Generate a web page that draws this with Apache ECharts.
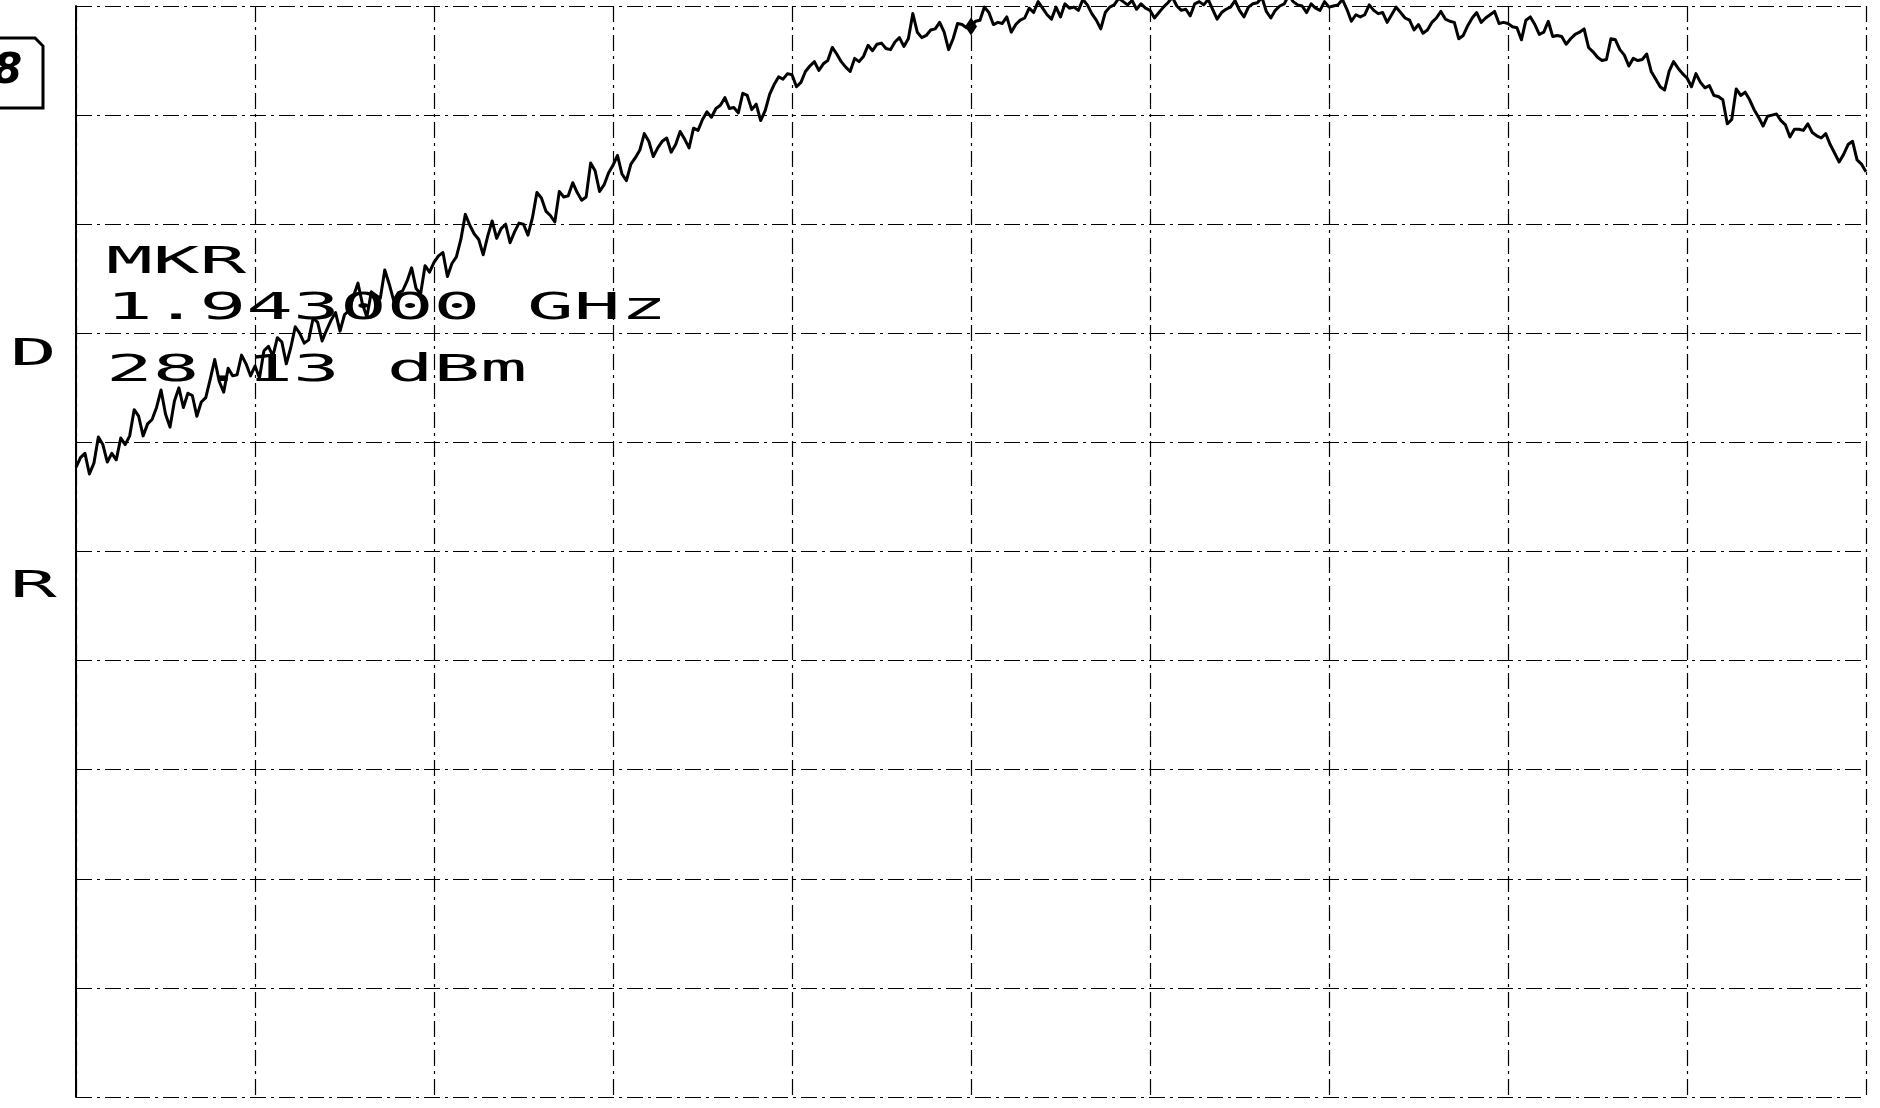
<!DOCTYPE html>
<html>
<head>
<meta charset="utf-8">
<script src="https://cdn.jsdelivr.net/npm/echarts@6/dist/echarts.min.js"></script>
<style>html,body{margin:0;padding:0;background:#fff;}#chart{width:1880px;height:1108px;}</style>
</head>
<body>
<div id="chart"></div>
<script>
// Frequency axis (MHz), 0.005 MHz per trace point, 0.2 MHz per division
const freqMHz = [
1942.000,1942.005,1942.010,1942.015,1942.020,1942.025,1942.030,1942.035,1942.040,1942.045,1942.050,1942.055,1942.060,1942.065,1942.070,1942.075,1942.080,1942.085,1942.090,1942.095,
1942.100,1942.105,1942.110,1942.115,1942.120,1942.125,1942.130,1942.135,1942.140,1942.145,1942.150,1942.155,1942.160,1942.165,1942.170,1942.175,1942.180,1942.185,1942.190,1942.195,
1942.200,1942.205,1942.210,1942.215,1942.220,1942.225,1942.230,1942.235,1942.240,1942.245,1942.250,1942.255,1942.260,1942.265,1942.270,1942.275,1942.280,1942.285,1942.290,1942.295,
1942.300,1942.305,1942.310,1942.315,1942.320,1942.325,1942.330,1942.335,1942.340,1942.345,1942.350,1942.355,1942.360,1942.365,1942.370,1942.375,1942.380,1942.385,1942.390,1942.395,
1942.400,1942.405,1942.410,1942.415,1942.420,1942.425,1942.430,1942.435,1942.440,1942.445,1942.450,1942.455,1942.460,1942.465,1942.470,1942.475,1942.480,1942.485,1942.490,1942.495,
1942.500,1942.505,1942.510,1942.515,1942.520,1942.525,1942.530,1942.535,1942.540,1942.545,1942.550,1942.555,1942.560,1942.565,1942.570,1942.575,1942.580,1942.585,1942.590,1942.595,
1942.600,1942.605,1942.610,1942.615,1942.620,1942.625,1942.630,1942.635,1942.640,1942.645,1942.650,1942.655,1942.660,1942.665,1942.670,1942.675,1942.680,1942.685,1942.690,1942.695,
1942.700,1942.705,1942.710,1942.715,1942.720,1942.725,1942.730,1942.735,1942.740,1942.745,1942.750,1942.755,1942.760,1942.765,1942.770,1942.775,1942.780,1942.785,1942.790,1942.795,
1942.800,1942.805,1942.810,1942.815,1942.820,1942.825,1942.830,1942.835,1942.840,1942.845,1942.850,1942.855,1942.860,1942.865,1942.870,1942.875,1942.880,1942.885,1942.890,1942.895,
1942.900,1942.905,1942.910,1942.915,1942.920,1942.925,1942.930,1942.935,1942.940,1942.945,1942.950,1942.955,1942.960,1942.965,1942.970,1942.975,1942.980,1942.985,1942.990,1942.995,
1943.000,1943.005,1943.010,1943.015,1943.020,1943.025,1943.030,1943.035,1943.040,1943.045,1943.050,1943.055,1943.060,1943.065,1943.070,1943.075,1943.080,1943.085,1943.090,1943.095,
1943.100,1943.105,1943.110,1943.115,1943.120,1943.125,1943.130,1943.135,1943.140,1943.145,1943.150,1943.155,1943.160,1943.165,1943.170,1943.175,1943.180,1943.185,1943.190,1943.195,
1943.200,1943.205,1943.210,1943.215,1943.220,1943.225,1943.230,1943.235,1943.240,1943.245,1943.250,1943.255,1943.260,1943.265,1943.270,1943.275,1943.280,1943.285,1943.290,1943.295,
1943.300,1943.305,1943.310,1943.315,1943.320,1943.325,1943.330,1943.335,1943.340,1943.345,1943.350,1943.355,1943.360,1943.365,1943.370,1943.375,1943.380,1943.385,1943.390,1943.395,
1943.400,1943.405,1943.410,1943.415,1943.420,1943.425,1943.430,1943.435,1943.440,1943.445,1943.450,1943.455,1943.460,1943.465,1943.470,1943.475,1943.480,1943.485,1943.490,1943.495,
1943.500,1943.505,1943.510,1943.515,1943.520,1943.525,1943.530,1943.535,1943.540,1943.545,1943.550,1943.555,1943.560,1943.565,1943.570,1943.575,1943.580,1943.585,1943.590,1943.595,
1943.600,1943.605,1943.610,1943.615,1943.620,1943.625,1943.630,1943.635,1943.640,1943.645,1943.650,1943.655,1943.660,1943.665,1943.670,1943.675,1943.680,1943.685,1943.690,1943.695,
1943.700,1943.705,1943.710,1943.715,1943.720,1943.725,1943.730,1943.735,1943.740,1943.745,1943.750,1943.755,1943.760,1943.765,1943.770,1943.775,1943.780,1943.785,1943.790,1943.795,
1943.800,1943.805,1943.810,1943.815,1943.820,1943.825,1943.830,1943.835,1943.840,1943.845,1943.850,1943.855,1943.860,1943.865,1943.870,1943.875,1943.880,1943.885,1943.890,1943.895,
1943.900,1943.905,1943.910,1943.915,1943.920,1943.925,1943.930,1943.935,1943.940,1943.945,1943.950,1943.955,1943.960,1943.965,1943.970,1943.975,1943.980,1943.985,1943.990,1943.995,
1944.000
];
// Trace level (dBm) (10 dB/div, reference level 30 dBm at top line)
const levelDbm = [
-12.3,-11.4,-11.0,-12.9,-11.9,-9.5,-10.2,-11.8,-11.0,-11.6,-9.6,-10.2,-9.4,-7.0,-7.6,-9.4,-8.3,-7.9,-6.8,-5.2,
-7.4,-8.6,-6.2,-5.0,-6.8,-5.5,-5.7,-7.6,-6.3,-5.9,-4.2,-2.4,-4.4,-5.4,-3.2,-3.9,-3.8,-2.0,-2.8,-3.9,
-3.0,-4.1,-1.6,-1.2,-2.1,-0.4,-0.8,-2.8,-1.3,0.6,0.0,-0.9,-0.6,1.4,1.0,-0.7,0.3,1.2,1.9,0.2,
1.7,2.1,3.4,4.6,2.7,1.5,3.8,3.5,3.2,5.8,4.5,3.0,3.7,3.9,4.8,6.0,4.1,3.6,6.2,5.6,
6.5,7.1,7.4,5.2,6.4,7.0,8.6,10.9,9.9,9.1,8.6,7.2,8.9,10.3,8.7,9.6,10.0,8.3,9.3,10.1,
10.0,9.0,10.6,12.9,12.4,11.2,10.8,10.2,13.0,12.5,12.6,13.8,12.9,12.2,12.5,15.6,14.9,13.0,13.6,14.7,
15.4,16.3,14.6,14.0,15.5,16.1,16.8,18.3,17.6,16.2,17.0,17.6,17.9,16.6,17.3,18.5,17.8,17.0,18.8,18.6,
19.6,20.3,19.8,20.6,20.9,21.6,20.6,20.7,20.2,22.0,21.8,20.5,21.0,19.5,20.4,21.9,22.8,23.5,23.3,23.8,
23.7,22.6,23.0,24.0,24.5,24.9,24.1,24.7,25.0,26.2,25.6,24.9,24.4,24.0,25.2,24.9,25.4,26.4,25.9,26.5,
26.6,26.1,26.0,26.7,27.1,26.3,27.0,29.3,27.6,27.1,27.3,27.8,27.9,28.5,27.6,26.0,27.0,28.4,28.3,28.0,
28.1,28.6,28.7,29.9,29.4,28.3,28.5,28.4,29.0,27.6,28.3,28.7,28.9,29.8,29.4,30.4,29.8,29.2,28.8,29.9,
29.0,30.2,29.8,29.9,29.6,30.6,30.1,29.3,28.7,27.9,29.4,29.9,30.1,30.7,30.4,30.1,30.5,29.7,30.2,29.8,
29.6,28.9,29.4,29.9,30.3,30.8,30.0,29.6,29.7,29.1,30.2,30.4,30.1,30.6,29.7,28.8,29.4,29.7,29.9,30.5,
29.6,29.0,29.9,30.2,30.3,30.8,29.5,28.9,29.6,30.0,30.2,31.0,30.4,30.1,30.0,29.4,30.2,29.8,29.6,30.4,
29.9,30.0,30.1,30.6,29.7,28.6,29.2,29.0,29.2,30.1,29.6,29.3,29.4,28.5,29.2,29.9,29.4,28.9,28.7,27.8,
28.3,27.5,27.8,28.5,28.9,29.5,28.8,28.6,28.5,27.0,27.3,28.2,28.9,29.4,28.5,28.9,29.2,29.5,28.4,28.5,
28.4,28.1,28.0,26.9,28.7,29.0,28.3,27.4,27.6,28.6,27.2,27.3,27.2,26.5,27.0,27.4,27.6,27.9,26.2,25.8,
25.3,25.0,25.1,27.0,26.9,26.0,25.5,24.5,25.2,25.0,25.1,25.6,24.0,23.3,22.6,22.3,24.0,24.9,24.3,23.8,
23.4,22.6,23.8,23.0,22.5,22.7,21.8,21.7,21.4,19.2,19.6,22.4,21.8,22.1,21.4,20.5,19.8,19.0,19.9,20.0,
20.1,19.5,19.1,18.0,18.7,18.7,18.6,19.2,18.4,18.1,17.9,18.3,17.3,16.5,15.7,16.4,17.3,17.6,15.9,15.5,
14.8
];
// Marker readout
const markerFreqMHz = 1943.000;
const markerLevelDbm = 28.13;
const markerLines = ['MKR', '1.943000 GHz', '28.13 dBm'];
const sideLabels = ['D', 'R'];
const pageNumber = '8';
// Axis scale
const freqStart = 1942.0, freqStop = 1944.0, freqPerDiv = 0.2;
const refLevel = 30, bottomLevel = -70, dbPerDiv = 10;

const gridStyle = {color: '#000', width: 1.2, type: [16, 5, 3, 5]};
const chart = echarts.init(document.getElementById('chart'), null, {renderer: 'canvas'});

const mono = '"DejaVu Sans Mono", monospace';
const lineY = [263, 309, 371];
const graphics = markerLines.map((t, i) => ({
  type: 'text', x: 106, y: lineY[i], scaleX: 2.1, z: 10,
  style: {text: t, fontFamily: mono, fontSize: 37, fill: '#000', align: 'left', verticalAlign: 'middle'}
}));
const sideY = [355, 587];
sideLabels.forEach((t, i) => graphics.push({
  type: 'text', x: 10, y: sideY[i], scaleX: 2.1, z: 10,
  style: {text: t, fontFamily: mono, fontSize: 37, fill: '#000', align: 'left', verticalAlign: 'middle'}
}));
graphics.push({
  type: 'polyline', z: 10,
  shape: {points: [[0, 38], [35, 38], [43, 46], [43, 108], [0, 108]]},
  style: {stroke: '#000', lineWidth: 3, fill: null}
});
graphics.push({
  type: 'text', x: -7, y: 72, z: 10,
  style: {text: pageNumber, fontFamily: '"DejaVu Sans", sans-serif', fontStyle: 'italic', fontWeight: 'bold', fontSize: 42, fill: '#000', align: 'left', verticalAlign: 'middle'}
});

chart.setOption({
  animation: false,
  backgroundColor: '#fff',
  grid: {left: 76, right: 14, top: 6, bottom: 11, containLabel: false},
  xAxis: {
    type: 'value', min: freqStart, max: freqStop, interval: freqPerDiv,
    axisLine: {show: false}, axisTick: {show: false}, axisLabel: {show: false},
    splitLine: {show: true, lineStyle: gridStyle}
  },
  yAxis: {
    type: 'value', min: bottomLevel, max: refLevel, interval: dbPerDiv,
    axisLine: {show: true, lineStyle: {color: '#000', width: 2}},
    axisTick: {show: false}, axisLabel: {show: false},
    splitLine: {show: true, lineStyle: gridStyle}
  },
  series: [{
    type: 'line',
    data: freqMHz.map((f, i) => [f, levelDbm[i]]),
    showSymbol: false, symbol: 'none', clip: false, silent: true,
    lineStyle: {color: '#000', width: 3, join: 'round'},
    markPoint: {
      symbol: 'diamond', symbolSize: [12, 18],
      itemStyle: {color: '#000'}, label: {show: false},
      data: [{coord: [markerFreqMHz, markerLevelDbm]}]
    }
  }],
  graphic: graphics
});
</script>
</body>
</html>
